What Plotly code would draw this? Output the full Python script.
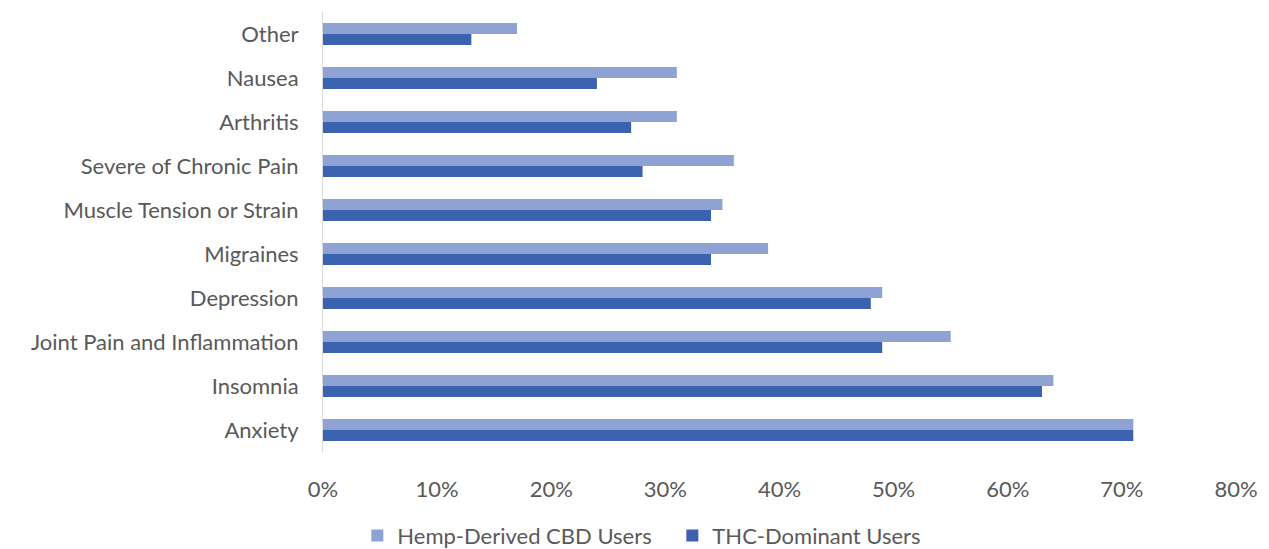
import plotly.graph_objects as go

categories = ["Other", "Nausea", "Arthritis", "Severe of Chronic Pain", "Muscle Tension or Strain",
              "Migraines", "Depression", "Joint Pain and Inflammation", "Insomnia", "Anxiety"]
cbd_values = [17, 31, 31, 36, 35, 39, 49, 55, 64, 71]
thc_values = [13, 24, 27, 28, 34, 34, 48, 49, 63, 71]
x_ticks = [0, 10, 20, 30, 40, 50, 60, 70, 80]
x_tick_labels = [f"{v}%" for v in x_ticks]

fig = go.Figure()
fig.add_trace(go.Bar(y=categories, x=cbd_values, orientation="h", name="Hemp-Derived CBD Users",
                     marker=dict(color="#8FA2D4", line=dict(width=0))))
fig.add_trace(go.Bar(y=categories, x=thc_values, orientation="h", name="THC-Dominant Users",
                     marker=dict(color="#3A62AE", line=dict(width=0))))

font_family = "Lato, 'Open Sans', sans-serif"
fig.update_layout(
    width=1269, height=549,
    barmode="group", bargap=0.5, bargroupgap=0,
    plot_bgcolor="white", paper_bgcolor="white",
    margin=dict(l=323, r=33, t=12, b=97, autoexpand=False),
    font=dict(family=font_family, size=22, color="#595959"),
    legend=dict(orientation="h", xref="container", x=0.2816, xanchor="left",
                yref="container", y=0.024, yanchor="middle",
                font=dict(size=22, color="#595959"), itemwidth=30, entrywidth=270,
                traceorder="normal"),
    showlegend=True,
)
fig.update_xaxes(range=[0, 80], tickvals=x_ticks, ticktext=x_tick_labels, showgrid=False,
                 zeroline=False, showline=False, ticklabelstandoff=22)
fig.update_yaxes(autorange="reversed", showline=True, linecolor="#D9D9D9", linewidth=1,
                 showgrid=False, ticklabelstandoff=19)

fig.write_html("out.html", config={"displayModeBar": False},
               post_script="document.body.style.margin='0';document.body.style.overflow='hidden';")
